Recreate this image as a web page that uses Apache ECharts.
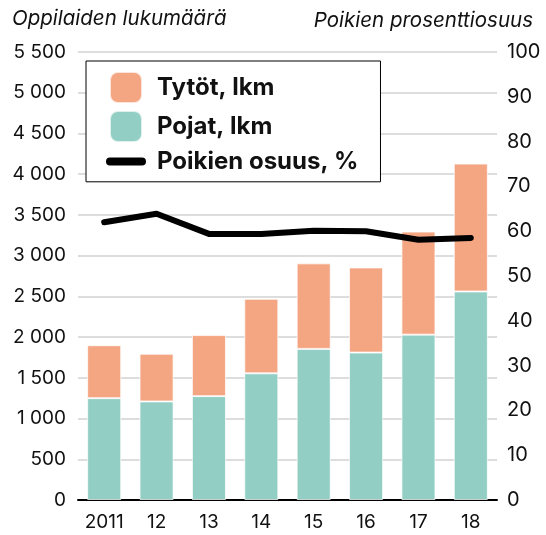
<!DOCTYPE html>
<html>
<head>
<meta charset="utf-8">
<script src="https://cdn.jsdelivr.net/npm/echarts@6/dist/echarts.min.js"></script>
<style>
  html, body { margin: 0; padding: 0; background: #fff; }
  #chart { width: 546px; height: 535px; }
</style>
</head>
<body>
<div id="chart"></div>
<script>
// vuodet
var years = ["2011", "12", "13", "14", "15", "16", "17", "18"];
// oppilaat, lkm
var pojat = [1250, 1210, 1275, 1555, 1855, 1810, 2030, 2560];
var tytot = [650, 585, 750, 915, 1050, 1045, 1265, 1570];
// poikien osuus, %
var osuus = [62.0, 63.9, 59.4, 59.4, 60.1, 60.0, 58.1, 58.5];

var font = "Inter";

var chart = echarts.init(document.getElementById("chart"));
chart.setOption({
  animation: false,
  textStyle: { fontFamily: font },
  title: [
    {
      text: "Oppilaiden lukumäärä",
      left: 7,
      top: 4,
      textStyle: { fontFamily: font, fontStyle: "italic", fontWeight: "normal", fontSize: 20.5, color: "#111" }
    },
    {
      text: "Poikien prosenttiosuus",
      right: 8,
      top: 6,
      textStyle: { fontFamily: font, fontStyle: "italic", fontWeight: "normal", fontSize: 20.5, color: "#111" }
    }
  ],
  grid: {
    left: 78,
    right: 49,
    top: 52,
    bottom: 35
  },
  legend: {
    left: 86,
    top: 61,
    orient: "vertical",
    backgroundColor: "#fff",
    borderColor: "#000",
    borderWidth: 1,
    borderRadius: 0,
    padding: [10, 22, 8, 20],
    itemWidth: 32,
    itemHeight: 31,
    itemGap: 6,
    data: [
      "Tytöt, lkm",
      "Pojat, lkm",
      { name: "Poikien osuus, %", itemStyle: { opacity: 0 }, lineStyle: { width: 8, cap: "round" } }
    ],
    textStyle: { fontFamily: font, fontWeight: "bold", fontSize: 24, color: "#111", padding: [0, 0, 0, 10] }
  },
  xAxis: {
    type: "category",
    data: years,
    axisTick: { show: false },
    axisLine: { lineStyle: { color: "#000", width: 2 } },
    axisLabel: { color: "#111", fontSize: 19, margin: 13, interval: 0 }
  },
  yAxis: [
    {
      type: "value",
      min: 0,
      max: 5500,
      interval: 500,
      axisLine: { show: false },
      axisTick: { show: false },
      axisLabel: {
        color: "#111",
        fontSize: 19,
        margin: 12,
        formatter: function (v) {
          return String(v).replace(/\B(?=(\d{3})+(?!\d))/g, " ");
        }
      },
      splitLine: { lineStyle: { color: "#d2d2d2", width: 1.5 } }
    },
    {
      type: "value",
      min: 0,
      max: 100,
      interval: 10,
      axisLine: { show: false },
      axisTick: { show: false },
      axisLabel: { color: "#111", fontSize: 20, margin: 10 },
      splitLine: { show: false }
    }
  ],
  series: [
    {
      name: "Pojat, lkm",
      type: "bar",
      stack: "lkm",
      barWidth: "65%",
      data: pojat,
      itemStyle: { color: "#92cec3", borderColor: "rgba(255,255,255,0.7)", borderWidth: 1 }
    },
    {
      name: "Tytöt, lkm",
      type: "bar",
      stack: "lkm",
      barWidth: "65%",
      data: tytot,
      itemStyle: { color: "#f4a683", borderColor: "rgba(255,255,255,0.7)", borderWidth: 1 }
    },
    {
      name: "Poikien osuus, %",
      type: "line",
      yAxisIndex: 1,
      data: osuus,
      symbol: "none",
      z: 5,
      lineStyle: { color: "#000", width: 6, cap: "round", join: "round" },
      itemStyle: { color: "#000" }
    }
  ]
});
</script>
</body>
</html>
